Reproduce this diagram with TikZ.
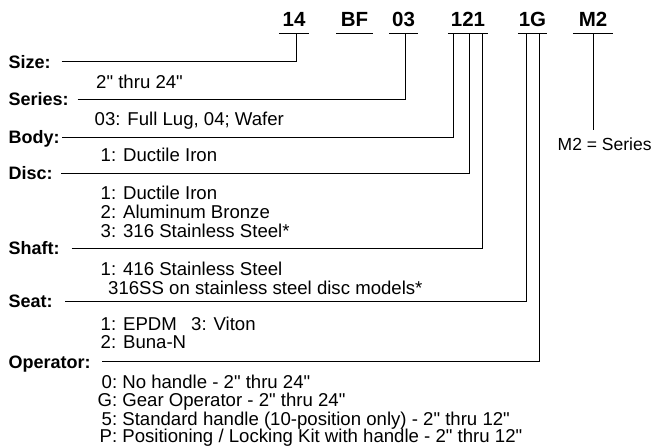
\documentclass[tikz,border=0pt]{standalone}
\usepackage{fontspec}
\setmainfont{Liberation Sans}[Ligatures=TeXOff]
\begin{document}
\begin{tikzpicture}[x=1pt,y=-1pt,
  code/.style={font=\fontsize{20.5}{24}\selectfont\bfseries, inner xsep=0pt, inner ysep=6.6pt, text depth=0pt, anchor=south},
  lbl/.style={font=\fontsize{18}{19}\selectfont\bfseries, inner sep=0pt, anchor=base west},
  desc/.style={font=\fontsize{18.6}{19}\selectfont, inner sep=0pt, anchor=base west},
  conn/.style={line width=1pt}]
\useasboundingbox (0,0) rectangle (655,445);

% code nodes (underlined)
\node[code, minimum width=30pt] (c14)  at (294,33.3)   {14};
\node[code, minimum width=36pt] (cBF)  at (354.5,33.3) {BF};
\node[code, minimum width=29pt] (c03)  at (403.5,33.3) {03};
\node[code, minimum width=40pt] (c121) at (468,33.3)   {121};
\node[code, minimum width=29pt] (c1G)  at (532.5,33.3) {1G};
\node[code, minimum width=40pt] (cM2)  at (593,33.3)   {M2};
\foreach \c in {c14,cBF,c03,c121,c1G,cM2}
  \draw[conn] (\c.south west) -- (\c.south east);

% taps on the underlines
\coordinate (t14)   at (296,33.3);
\coordinate (t03)   at (405,33.3);
\coordinate (t121a) at (453.5,33.3);
\coordinate (t121b) at (469.5,33.3);
\coordinate (t121c) at (482,33.3);
\coordinate (t1Ga)  at (526,33.3);
\coordinate (t1Gb)  at (539,33.3);
\coordinate (tM2)   at (593.5,33.3);

% labels
\node[lbl] (lSize)   at (8.5,68)    {Size:};
\node[lbl] (lSeries) at (8.5,105.6) {Series:};
\node[lbl] (lBody)   at (8.5,143.6) {Body:};
\node[lbl] (lDisc)   at (8.5,179.6) {Disc:};
\node[lbl] (lShaft)  at (8.5,254.6) {Shaft:};
\node[lbl] (lSeat)   at (8.5,307.8) {Seat:};
\node[lbl] (lOper)   at (8.5,368)   {Operator:};

% line starts
\coordinate (sSize)   at (61.5,61.7);
\coordinate (sSeries) at (77.5,99.3);
\coordinate (sBody)   at (62,137.3);
\coordinate (sDisc)   at (61,173.3);
\coordinate (sShaft)  at (71.5,248.3);
\coordinate (sSeat)   at (65,301.5);
\coordinate (sOper)   at (102,361.7);

\draw[conn] (sSize)   -| (t14);
\draw[conn] (sSeries) -| (t03);
\draw[conn] (sBody)   -| (t121a);
\draw[conn] (sDisc)   -| (t121b);
\draw[conn] (sShaft)  -| (t121c);
\draw[conn] (sSeat)   -| (t1Ga);
\draw[conn] (sOper)   -| (t1Gb);

% M2 note
\node[desc, font=\fontsize{17.5}{19}\selectfont] (mSer) at (557.5,150) {M2 = Series};
\coordinate (eM2) at (593.5,130);
\draw[conn] (tM2) -- (eM2);

% descriptions
\node[desc] (dSize)   at (96,88)     {2" thru 24"};
\node[desc] (dSeries) at (94.5,125)  {03: Full Lug, 04; Wafer};
\node[desc] (dBody)   at (100.5,161.7) {1: Ductile Iron};
\node[desc] (dDisc1)  at (100.5,199.3) {1: Ductile Iron};
\node[desc] (dDisc2)  at (100.5,218.3) {2: Aluminum Bronze};
\node[desc] (dDisc3)  at (100.5,237.3) {3: 316 Stainless Steel*};
\node[desc] (dShaft1) at (100.5,275)   {1: 416 Stainless Steel};
\node[desc] (dShaft2) at (108,294)     {316SS on stainless steel disc models*};
\node[desc] (dSeat1)  at (100.5,330)   {1: EPDM};
\node[desc] (dSeat3)  at (191,330)     {3: Viton};
\node[desc] (dSeat2)  at (100.5,348.5) {2: Buna-N};
\node[desc] (dOp0) at (117,388)   {\llap{0:} No handle - 2" thru 24"};
\node[desc] (dOpG) at (117,406.7) {\llap{G:} Gear Operator - 2" thru 24"};
\node[desc] (dOp5) at (117,425)   {\llap{5:} Standard handle (10-position only) - 2" thru 12"};
\node[desc] (dOpP) at (117,442)   {\llap{P:} Positioning / Locking Kit with handle - 2" thru 12"};
\end{tikzpicture}
\end{document}
